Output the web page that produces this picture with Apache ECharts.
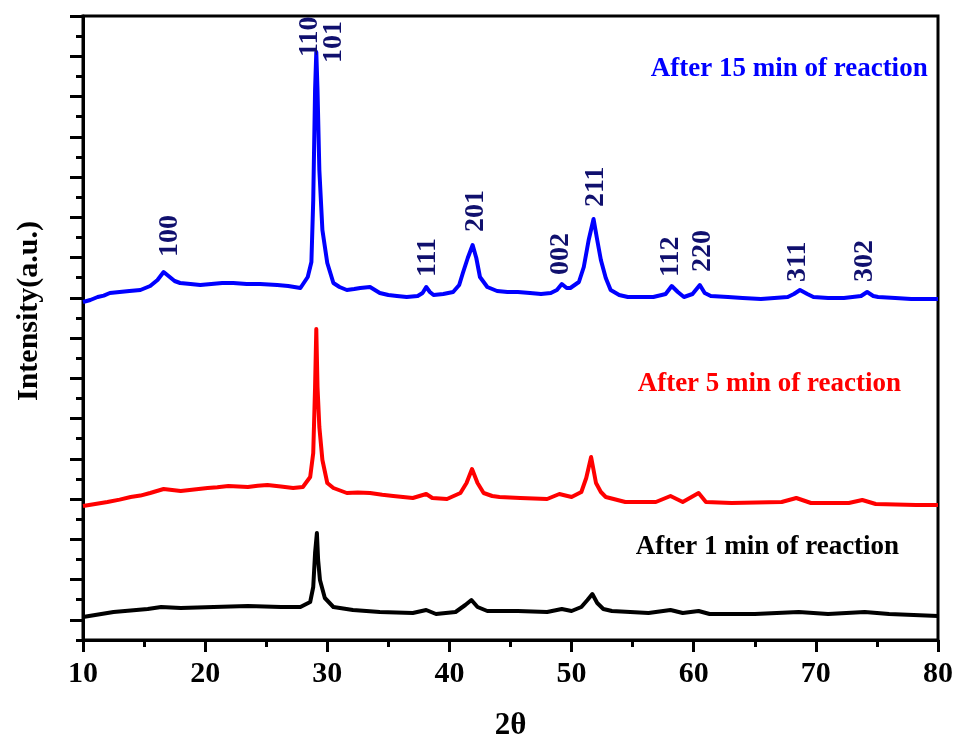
<!DOCTYPE html>
<html>
<head>
<meta charset="utf-8">
<title>XRD patterns</title>
<script src="https://cdn.jsdelivr.net/npm/echarts@6/dist/echarts.min.js"></script>
<style>
  html, body { margin: 0; padding: 0; background: #fff; }
  #chart { width: 958px; height: 738px; }
</style>
</head>
<body>
<div id="chart"></div>
<script>
// XRD scans: [2θ (deg), intensity (a.u., curves stacked with an offset)]
const scan15min = [
  [10.0,1690],[10.6,1700],[11.2,1715],[11.7,1722],[12.2,1735],[13.0,1740],[13.8,1745],[14.7,1750],
  [15.5,1770],[16.1,1800],[16.6,1840],[17.1,1815],[17.5,1795],[17.95,1785],[18.8,1780],
  [19.6,1775],[20.5,1780],[21.4,1785],[22.3,1785],[23.4,1780],[24.5,1780],[25.9,1775],
  [26.8,1770],[27.8,1760],[28.4,1815],[28.7,1890],[28.85,2200],[29.0,2750],[29.1,2940],
  [29.2,2750],[29.35,2350],[29.6,2050],[30.0,1885],[30.5,1785],[31.0,1765],[31.6,1750],
  [32.2,1755],[32.7,1760],[33.5,1765],[34.3,1735],[35.0,1725],[35.7,1720],[36.5,1715],
  [37.4,1720],[37.8,1735],[38.1,1765],[38.4,1740],[38.7,1725],[39.5,1730],[40.3,1740],
  [40.8,1775],[41.1,1835],[41.5,1910],[41.9,1975],[42.2,1910],[42.5,1815],[43.1,1765],
  [43.9,1745],[44.75,1740],[45.6,1740],[46.6,1735],[47.5,1730],[48.3,1735],[48.8,1750],
  [49.2,1780],[49.6,1760],[49.9,1760],[50.6,1790],[51.0,1865],[51.4,2000],[51.8,2105],
  [52.1,2000],[52.4,1900],[52.8,1810],[53.2,1750],[53.9,1725],[54.6,1715],[55.6,1715],
  [56.7,1715],[57.7,1730],[58.2,1770],[58.7,1740],[59.2,1715],[59.9,1730],[60.5,1775],
  [60.9,1735],[61.4,1720],[62.8,1715],[64.0,1710],[65.5,1705],[66.6,1710],[67.7,1715],
  [68.2,1730],[68.7,1750],[69.3,1730],[69.8,1715],[71.0,1710],[72.3,1710],[73.7,1720],
  [74.2,1740],[74.7,1720],[75.1,1715],[76.5,1710],[77.8,1705],[79.0,1705],[80.0,1705]
];

const scan5min = [
  [10.0,670],[11.0,680],[12.0,690],[13.0,702],[13.9,715],[14.7,722],[15.5,735],[16.6,755],
  [17.3,750],[18.0,745],[19.1,752],[20.2,760],[21.0,764],[21.9,770],[22.7,767],[23.5,765],
  [24.3,771],[25.1,775],[26.2,767],[27.2,760],[28.0,765],[28.6,815],[28.85,935],
  [29.0,1265],[29.1,1555],[29.2,1265],[29.35,1065],[29.6,900],[30.0,785],[30.5,760],
  [31.6,735],[32.5,738],[33.5,735],[34.5,726],[35.4,720],[37.0,710],[38.1,730],[38.6,710],
  [39.8,705],[40.9,735],[41.4,785],[41.85,855],[42.3,785],[42.8,735],[43.5,720],[44.1,715],
  [45.8,710],[48.0,705],[49.0,730],[50.0,715],[50.8,740],[51.2,810],[51.6,915],
  [52.0,785],[52.4,740],[52.8,715],[54.4,690],[56.9,690],[58.1,720],[59.1,690],
  [60.4,735],[61.0,690],[63.1,685],[67.2,690],[68.4,710],[69.6,685],[72.7,685],
  [73.8,700],[74.9,680],[78.2,675],[80.0,675]
];

const scan1min = [
  [10.0,115],[12.5,140],[15.3,155],[16.4,165],[18.0,160],[20.7,165],[23.5,170],
  [26.2,165],[27.8,165],[28.6,190],[28.85,265],[29.0,435],[29.15,535],[29.25,400],
  [29.4,300],[29.8,210],[30.5,165],[32.1,150],[34.3,140],[37.0,135],[38.1,150],
  [38.9,130],[40.5,140],[41.3,175],[41.8,200],[42.3,165],[43.1,145],[45.6,145],
  [48.0,140],[49.2,155],[50.0,145],[50.8,165],[51.3,200],[51.7,230],[52.1,185],
  [52.6,155],[53.3,145],[56.3,135],[58.1,150],[59.1,135],[60.4,145],[61.3,130],
  [65.0,130],[68.6,140],[71.0,130],[74.0,140],[76.0,130],[80.0,120]
];

// Miller indices above the 15 min pattern: [2θ, intensity at label foot, hkl]
const hklLabels = [
  [17.13,1915,'100'],[28.6,2915,'110'],[30.5,2885,'101'],[38.2,1815,'111'],
  [42.13,2040,'201'],[49.1,1825,'002'],[51.97,2165,'211'],[58.11,1815,'112'],
  [60.74,1840,'220'],[68.52,1790,'311'],[74.02,1790,'302']
];

// Curve captions: [2θ at text start, intensity at text middle, text, colour]
const captions = [
  [56.48,2855,'After 15 min of reaction','#0000ff'],
  [55.41,1278,'After 5 min of reaction','#ff0000'],
  [55.25,465,'After 1 min of reaction','#000000']
];

const SERIF = '"Liberation Serif", "Times New Roman", Times, serif';

const chart = echarts.init(document.getElementById('chart'), null, { renderer: 'canvas' });

const lineSeries = (name, data, color) => ({
  name, type: 'line', data, xAxisIndex: 0, yAxisIndex: 0,
  showSymbol: false, symbol: 'none', silent: true, animation: false,
  lineStyle: { color, width: 4, join: 'round' }
});

chart.setOption({
  animation: false,
  backgroundColor: '#ffffff',
  grid: [
    { left: 83, right: 20, top: 16, bottom: 98, show: true, outerBoundsMode: 'none',
      containLabel: false, borderColor: '#000', borderWidth: 3, backgroundColor: 'transparent' },
    { left: 83, right: 20, top: 16, bottom: 118, show: false, outerBoundsMode: 'none',
      containLabel: false }
  ],
  xAxis: [
    {
      type: 'value', gridIndex: 0, min: 10, max: 80, interval: 10,
      name: '2θ', nameLocation: 'middle', nameGap: 70,
      nameTextStyle: { fontFamily: SERIF, fontWeight: 'bold', fontSize: 31, color: '#000' },
      axisLine: { show: true, lineStyle: { color: '#000', width: 3 } },
      axisTick: { show: true, inside: false, length: 12, lineStyle: { color: '#000', width: 3 } },
      minorTick: { show: true, splitNumber: 2, length: 7, lineStyle: { color: '#000', width: 3 } },
      axisLabel: { fontFamily: SERIF, fontWeight: 'bold', fontSize: 30, color: '#000', margin: 19 },
      splitLine: { show: false }, minorSplitLine: { show: false }
    },
    { type: 'value', gridIndex: 1, min: 10, max: 80, show: false }
  ],
  yAxis: [
    {
      type: 'value', gridIndex: 0, min: 0, max: 3120, position: 'left',
      name: 'Intensity(a.u.)', nameLocation: 'middle', nameRotate: 90, nameGap: 39,
      nameTextStyle: { fontFamily: SERIF, fontWeight: 'bold', fontSize: 30, color: '#000',
                       padding: [0, 0, 0, 34] },
      axisLine: { show: true, lineStyle: { color: '#000', width: 3 } },
      axisTick: { show: false }, axisLabel: { show: false }, splitLine: { show: false }
    },
    {
      // short ticks every step
      type: 'value', gridIndex: 0, min: 0, max: 31, interval: 1, position: 'left',
      axisLine: { show: false },
      axisTick: { show: true, inside: false, length: 7, lineStyle: { color: '#000', width: 3 } },
      axisLabel: { show: false }, splitLine: { show: false }
    },
    {
      // long ticks every other step
      type: 'value', gridIndex: 1, min: 0, max: 15, interval: 1, position: 'left',
      axisLine: { show: false },
      axisTick: { show: true, inside: false, length: 13, lineStyle: { color: '#000', width: 3 } },
      axisLabel: { show: false }, splitLine: { show: false }
    }
  ],
  series: [
    lineSeries('After 1 min of reaction', scan1min, '#000000'),
    lineSeries('After 5 min of reaction', scan5min, '#ff0000'),
    lineSeries('After 15 min of reaction', scan15min, '#0000ff'),
    {
      name: 'hkl', type: 'scatter', xAxisIndex: 0, yAxisIndex: 0,
      symbolSize: 0, silent: true, z: 5, itemStyle: { opacity: 1 },
      data: hklLabels.map(d => ({ value: [d[0], d[1]], hkl: d[2] })),
      label: {
        show: true, position: [0, 0], rotate: 90, align: 'left', verticalAlign: 'middle',
        fontFamily: SERIF, fontWeight: 'bold', fontSize: 28, color: '#10106e', opacity: 1,
        formatter: p => p.data.hkl
      }
    },
    {
      name: 'captions', type: 'scatter', xAxisIndex: 0, yAxisIndex: 0,
      symbolSize: 0, silent: true, z: 5, itemStyle: { opacity: 1 },
      data: captions.map(d => ({
        value: [d[0], d[1]], text: d[2],
        label: { color: d[3] }
      })),
      label: {
        show: true, position: [0, 0], align: 'left', verticalAlign: 'middle', opacity: 1,
        fontFamily: SERIF, fontWeight: 'bold', fontSize: 27,
        formatter: p => p.data.text
      }
    }
  ]
});
</script>
</body>
</html>
